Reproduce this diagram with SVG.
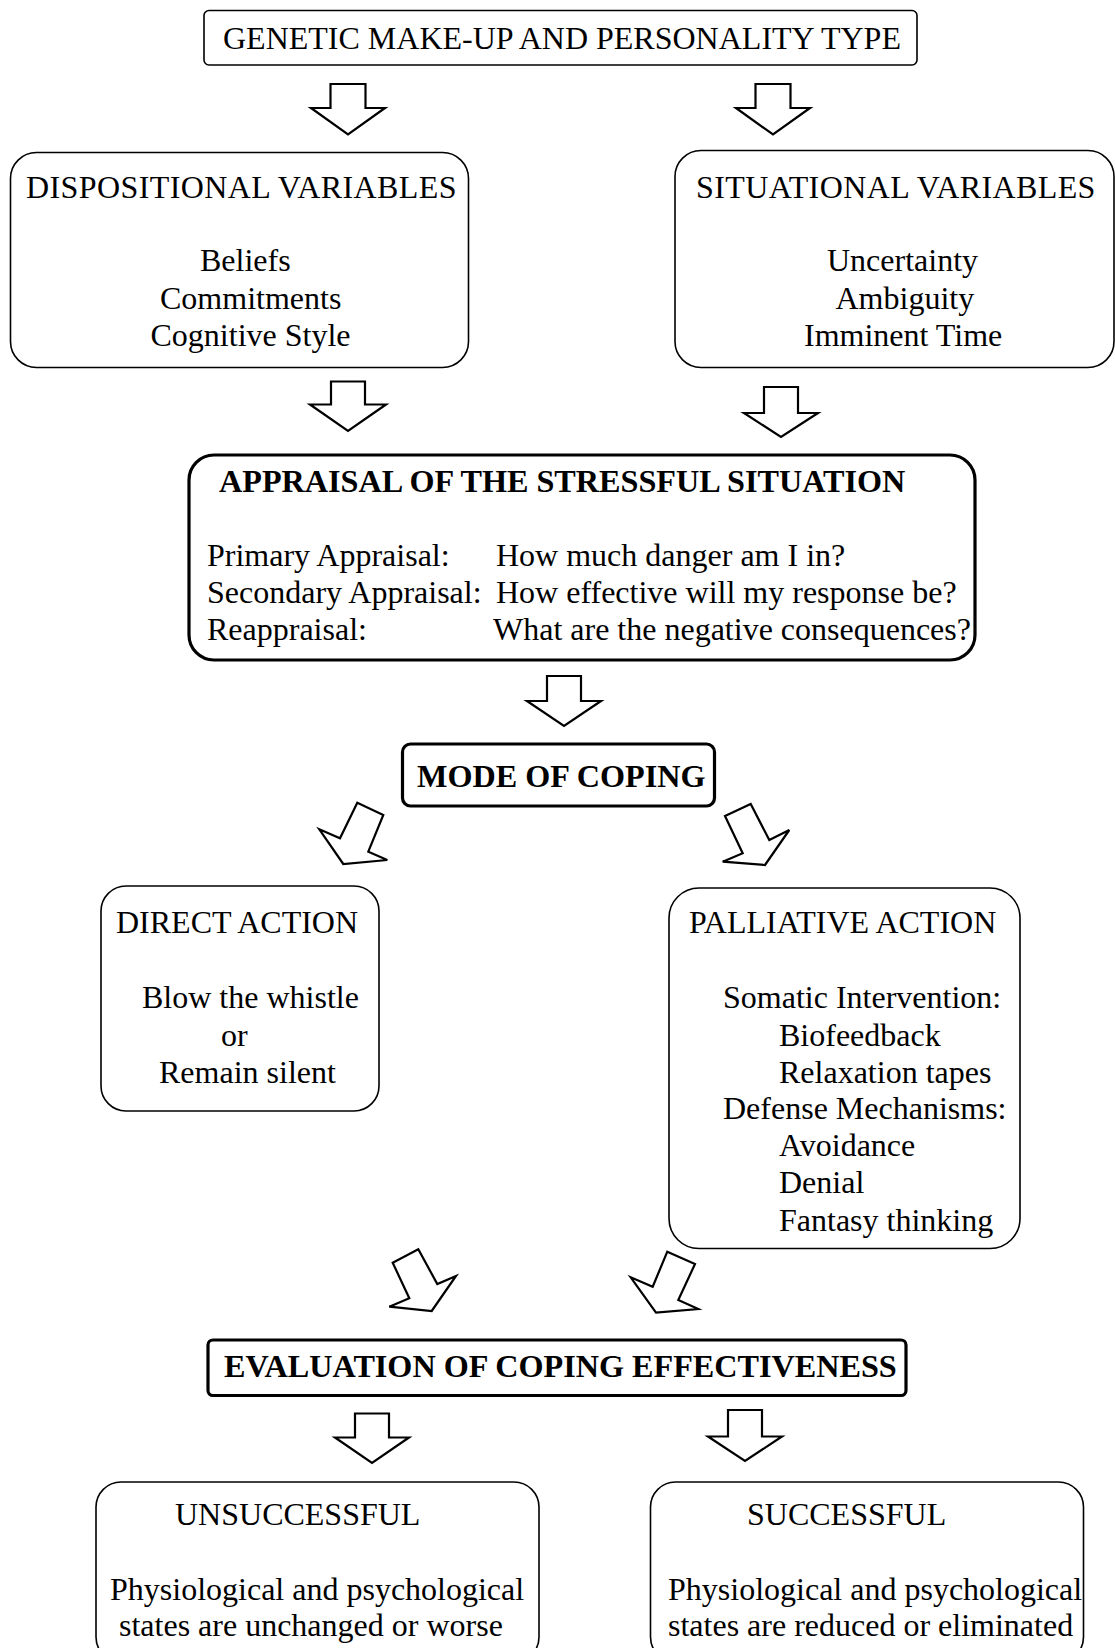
<svg xmlns="http://www.w3.org/2000/svg" width="1115" height="1648" viewBox="0 0 1115 1648">
<style>
.bg{fill:#ffffff}
.box{fill:none;stroke:#000;stroke-width:1.6}
.thick{fill:none;stroke:#000;stroke-width:3.2}
.t{font-family:"Liberation Serif","Times New Roman",serif;font-size:32px;fill:#000}
.b{font-family:"Liberation Serif","Times New Roman",serif;font-size:32.2px;font-weight:bold;fill:#000}
.ls{letter-spacing:0.4px}
.arr{fill:#fff;stroke:#000;stroke-width:2.2;stroke-linejoin:miter}
</style>
<rect class="bg" x="0" y="0" width="1115" height="1648"/>

<g id="genetic">
<rect class="box" x="204" y="10.5" width="713" height="54.5" rx="5"/>
<text class="t" x="223" y="49">GENETIC MAKE-UP AND PERSONALITY TYPE</text>
</g>

<g id="dispositional">
<rect class="box" x="10.5" y="152.5" width="458" height="215" rx="26"/>
<text class="t ls" x="26" y="197.5">DISPOSITIONAL VARIABLES</text>
<text class="t" x="200" y="271">Beliefs</text>
<text class="t" x="160" y="308.5">Commitments</text>
<text class="t" x="150.5" y="345.5">Cognitive Style</text>
</g>

<g id="situational">
<rect class="box" x="675" y="150.5" width="439" height="217" rx="26"/>
<text class="t ls" x="696" y="197.5">SITUATIONAL VARIABLES</text>
<text class="t" x="827" y="271">Uncertainty</text>
<text class="t" x="835.5" y="308.5">Ambiguity</text>
<text class="t" x="804" y="345.5">Imminent Time</text>
</g>

<g id="appraisal">
<rect class="thick" x="189" y="455" width="786" height="205" rx="25"/>
<text class="b" x="219" y="492">APPRAISAL OF THE STRESSFUL SITUATION</text>
<text class="t" x="207" y="566">Primary Appraisal:</text>
<text class="t" x="496" y="566">How much danger am I in?</text>
<text class="t" x="207" y="603">Secondary Appraisal:</text>
<text class="t" x="496" y="603">How effective will my response be?</text>
<text class="t" x="207" y="640">Reappraisal:</text>
<text class="t" x="493" y="640">What are the negative consequences?</text>
</g>

<g id="mode">
<rect class="thick" x="402.5" y="744" width="312" height="62" rx="8"/>
<text class="b" x="417" y="787">MODE OF COPING</text>
</g>

<g id="direct">
<rect class="box" x="101" y="886" width="278" height="225" rx="25"/>
<text class="t" x="116" y="933">DIRECT ACTION</text>
<text class="t" x="142" y="1008">Blow the whistle</text>
<text class="t" x="221" y="1045.5">or</text>
<text class="t" x="159" y="1082.5">Remain silent</text>
</g>

<g id="palliative">
<rect class="box" x="669" y="888" width="351" height="360.5" rx="30"/>
<text class="t" x="689" y="933">PALLIATIVE ACTION</text>
<text class="t" x="723" y="1008">Somatic Intervention:</text>
<text class="t" x="779" y="1045.5">Biofeedback</text>
<text class="t" x="779" y="1082.5">Relaxation tapes</text>
<text class="t" x="723" y="1119">Defense Mechanisms:</text>
<text class="t" x="779" y="1156">Avoidance</text>
<text class="t" x="779" y="1193">Denial</text>
<text class="t" x="779" y="1230.5">Fantasy thinking</text>
</g>

<g id="evaluation">
<rect class="thick" x="208" y="1340" width="698" height="55.5" rx="5"/>
<text class="b" x="224" y="1377">EVALUATION OF COPING EFFECTIVENESS</text>
</g>

<g id="unsuccessful">
<rect class="box" x="96" y="1482" width="443" height="180" rx="25"/>
<text class="t" x="175" y="1525">UNSUCCESSFUL</text>
<text class="t" x="110" y="1599.5">Physiological and psychological</text>
<text class="t" x="119" y="1636">states are unchanged or worse</text>
</g>

<g id="successful">
<rect class="box" x="650.5" y="1482" width="433" height="180" rx="25"/>
<text class="t" x="747" y="1525">SUCCESSFUL</text>
<text class="t" x="668" y="1599.5">Physiological and psychological</text>
<text class="t" x="668" y="1636">states are reduced or eliminated</text>
</g>

<g id="connectors">
<polygon class="arr" points="330.5,84 365.5,84 365.5,108 385,108 348,134.5 311,108 330.5,108"/>
<polygon class="arr" points="755.5,84 790.5,84 790.5,108 810,108 773,134.5 736,108 755.5,108"/>
<polygon class="arr" points="331,381.5 365,381.5 365,404.5 386,404.5 348,431 310,404.5 331,404.5"/>
<polygon class="arr" points="764,387 798,387 798,413 818,413 781,437 744,413 764,413"/>
<polygon class="arr" points="547,676 581,676 581,701 601,701 564,726 527,701 547,701"/>
<polygon class="arr" points="357.3,802.7 383.3,815 368.3,851.7 387.3,860 343.3,864 319.3,829.3 340,838.3"/>
<polygon class="arr" points="725,816 750.7,804 769.3,840 789.3,830 765,865 722.7,861.7 742.7,853.3"/>
<polygon class="arr" points="392.7,1262.7 418.3,1249.3 437.3,1284 456,1276 431.7,1311 389.3,1306.7 409.3,1298.3"/>
<polygon class="arr" points="667.3,1251.7 695,1264 678.3,1300 698.3,1309 656,1312.7 630.7,1277.3 652.7,1286.7"/>
<polygon class="arr" points="355,1413.5 389,1413.5 389,1437.5 409,1437.5 372,1463 335,1437.5 355,1437.5"/>
<polygon class="arr" points="728,1410 762,1410 762,1436.5 782,1436.5 745,1461 708,1436.5 728,1436.5"/>
</g>
</svg>
